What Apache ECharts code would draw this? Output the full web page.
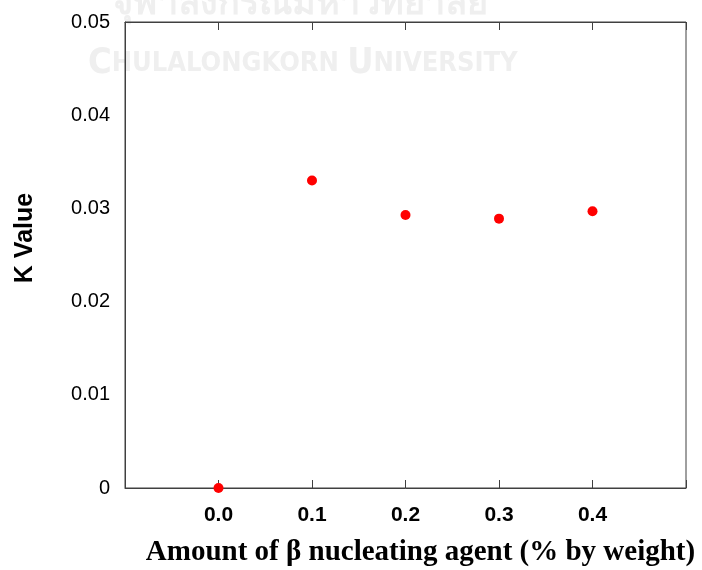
<!DOCTYPE html>
<html>
<head>
<meta charset="utf-8">
<script src="https://cdn.jsdelivr.net/npm/echarts@6/dist/echarts.min.js"></script>
<style>html,body{margin:0;padding:0;background:#fff}#c{width:702px;height:570px}</style>
</head>
<body>
<div id="c"></div>
<script>
var categories = [0.0, 0.1, 0.2, 0.3, 0.4];
var kValues = [0.0, 0.0330, 0.0293, 0.0289, 0.0297];
var yTicks = [0, 0.01, 0.02, 0.03, 0.04, 0.05];
var xTickLabels = ['0.0', '0.1', '0.2', '0.3', '0.4'];

var chart = echarts.init(document.getElementById('c'), null, {renderer: 'canvas'});
var points = categories.map(function (c, i) { return [c, kValues[i]]; });
function xLabel(v) {
  var r = Math.round(v * 10) / 10;
  var idx = categories.findIndex(function (c) { return Math.abs(c - r) < 1e-9; });
  return idx >= 0 ? xTickLabels[idx] : '';
}
var wmFont = '"Liberation Sans Narrow", "DejaVu Sans Condensed", "DejaVu Sans"';
chart.setOption({
  animation: false,
  graphic: [
    {type: 'text', left: 112, top: -14, z: 0, silent: true,
     style: {text: 'จุฬาลงกรณ์มหาวิทยาลัย', fill: '#efefef', font: 'bold 36px "Noto Sans", "DejaVu Sans"'}},
    {type: 'text', left: 88, top: 46, z: 0, silent: true,
     style: {text: '{b|C}{s|HULALONGKORN }{b|U}{s|NIVERSITY}', fill: '#efefef',
       rich: {b: {fontSize: 36, fontWeight: 'bold', fontFamily: wmFont, fill: '#efefef'},
              s: {fontSize: 27, fontWeight: 'bold', fontFamily: wmFont, fill: '#efefef'}}}},
    {type: 'text', x: 25, y: 238, rotation: Math.PI / 2, z: 10, silent: true,
     style: {text: 'K Value', fill: '#000', align: 'center', verticalAlign: 'middle',
       font: 'bold 25px "Liberation Sans", Arial'}}
  ],
  grid: {left: 125, right: 16, top: 22, bottom: 82, outerBoundsMode: 'none', containLabel: false,
    show: true, borderColor: '#404040', borderWidth: 1, backgroundColor: 'transparent', z: 5},
  xAxis: [
    {type: 'value', min: -0.1, max: 0.5, interval: 0.1, position: 'bottom',
     name: 'Amount of β nucleating agent (% by weight)', nameLocation: 'middle', nameGap: 50,
     nameTextStyle: {fontFamily: '"Liberation Serif", "Times New Roman", serif', fontWeight: 'bold', fontSize: 29, color: '#000', padding: [0, 0, 0, 30]},
     axisLine: {show: true, onZero: false, lineStyle: {color: '#404040'}},
     axisTick: {show: true, inside: true, length: 8, lineStyle: {color: '#404040'}},
     axisLabel: {formatter: xLabel, margin: 17, fontFamily: '"Liberation Sans", Arial', fontWeight: 'bold', fontSize: 21, color: '#000'},
     splitLine: {show: false}},
    {type: 'value', min: -0.1, max: 0.5, interval: 0.1, position: 'top',
     axisLine: {show: true, onZero: false, lineStyle: {color: '#404040'}},
     axisTick: {show: true, inside: true, length: 8, lineStyle: {color: '#404040'}},
     axisLabel: {show: false}, splitLine: {show: false}}
  ],
  yAxis: {type: 'value', min: 0, max: 0.05, interval: 0.01,
    axisLine: {show: true, onZero: false, lineStyle: {color: '#404040'}},
    axisTick: {show: false},
    axisLabel: {formatter: function (v) {
        var idx = yTicks.findIndex(function (t) { return Math.abs(t - v) < 1e-9; });
        return idx === 0 ? '0' : yTicks[idx].toFixed(2);
      }, margin: 15, fontFamily: '"Liberation Sans", Arial', fontSize: 20, color: '#000'},
    splitLine: {show: false}},
  series: [{type: 'scatter', data: points, symbol: 'circle', symbolSize: 10,
    itemStyle: {color: '#ff0000', opacity: 1}, clip: false, z: 10}]
});
</script>
</body>
</html>
